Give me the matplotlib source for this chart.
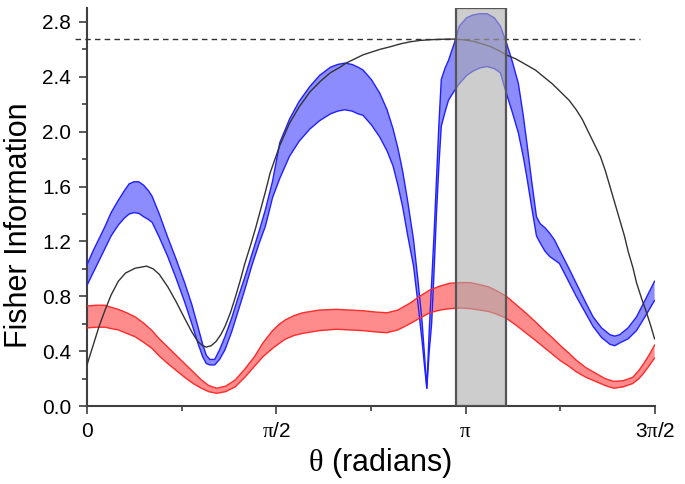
import numpy as np
import matplotlib
matplotlib.use('Agg')
import matplotlib.pyplot as plt
from matplotlib.patches import Rectangle
from matplotlib.ticker import MultipleLocator, FormatStrFormatter

plt.rcParams['font.family'] = ['Liberation Sans', 'DejaVu Sans']
plt.rcParams['mathtext.fontset'] = 'custom'
plt.rcParams['mathtext.rm'] = 'Liberation Sans'
plt.rcParams['mathtext.it'] = 'Liberation Serif'

# black reference curve
theta_black = [0, 0.05, 0.10, 0.15, 0.20, 0.26, 0.32, 0.40, 0.495, 0.55, 0.60, 0.67,
               0.74, 0.81, 0.87, 0.92, 0.96, 0.99, 1.03, 1.07, 1.11, 1.145, 1.19, 1.23,
               1.27, 1.31, 1.36, 1.40, 1.44, 1.48, 1.52, 1.60, 1.68, 1.76, 1.85, 1.94,
               2.02, 2.10, 2.15, 2.22, 2.29, 2.36, 2.43, 2.52, 2.60, 2.68, 2.76, 2.84,
               2.92, 3.00, 3.05, 3.12, 3.20, 3.28, 3.35, 3.42, 3.48, 3.56, 3.64, 3.72,
               3.79, 3.86, 3.93, 4.00, 4.06, 4.11, 4.16, 4.21, 4.26, 4.30, 4.34, 4.38,
               4.42, 4.46, 4.49, 4.53, 4.56, 4.60, 4.64, 4.68, 4.71]
fi_black = [0.30, 0.44, 0.58, 0.70, 0.81, 0.91, 0.97, 1.005, 1.02, 1.00, 0.96, 0.87,
            0.76, 0.64, 0.54, 0.47, 0.44, 0.43, 0.44, 0.47, 0.52, 0.58, 0.68, 0.79,
            0.91, 1.04, 1.18, 1.30, 1.43, 1.56, 1.70, 1.90, 2.06, 2.18, 2.29, 2.37,
            2.43, 2.47, 2.50, 2.53, 2.56, 2.58, 2.60, 2.62, 2.64, 2.655, 2.665, 2.67,
            2.673, 2.675, 2.675, 2.67, 2.66, 2.64, 2.62, 2.59, 2.56, 2.53, 2.49, 2.45,
            2.40, 2.35, 2.29, 2.23, 2.16, 2.09, 2.00, 1.91, 1.82, 1.72, 1.60, 1.48,
            1.36, 1.24, 1.13, 1.01, 0.90, 0.79, 0.69, 0.58, 0.49]

# blue band
theta_blue = [0, 0.05, 0.10, 0.15, 0.20, 0.26, 0.31, 0.35, 0.39, 0.43, 0.47, 0.51,
              0.54, 0.60, 0.67, 0.74, 0.81, 0.87, 0.92, 0.96, 0.99, 1.02, 1.06, 1.10,
              1.145, 1.20, 1.25, 1.31, 1.37, 1.43, 1.48, 1.54, 1.60, 1.68, 1.76, 1.85,
              1.93, 2.02, 2.08, 2.14, 2.20, 2.25, 2.29, 2.36, 2.43, 2.49, 2.54, 2.58,
              2.62, 2.66, 2.71, 2.745, 2.78, 2.80, 2.82, 2.84, 2.86, 2.88, 2.90, 2.92,
              2.94, 2.97, 3.00, 3.05, 3.09, 3.15, 3.20, 3.26, 3.32, 3.38, 3.43, 3.48,
              3.53, 3.58, 3.62, 3.65, 3.69, 3.73, 3.76, 3.80, 3.84, 3.88, 3.92, 3.99,
              4.06, 4.13, 4.20, 4.27, 4.34, 4.38, 4.42, 4.49, 4.56, 4.63, 4.71]
blue_hi = [1.03, 1.13, 1.22, 1.31, 1.41, 1.50, 1.57, 1.62, 1.635, 1.635, 1.61, 1.57,
           1.53, 1.40, 1.23, 1.07, 0.90, 0.74, 0.58, 0.45, 0.37, 0.34, 0.34, 0.41,
           0.505, 0.64, 0.78, 0.94, 1.11, 1.28, 1.43, 1.64, 1.92, 2.09, 2.22, 2.33,
           2.41, 2.47, 2.49, 2.50, 2.49, 2.47, 2.45, 2.38, 2.28, 2.16, 2.02, 1.88,
           1.71, 1.50, 1.21, 0.93, 0.62, 0.38, 0.13, 0.55, 0.90, 1.25, 1.65, 2.05,
           2.38, 2.46, 2.52, 2.65, 2.77, 2.83, 2.85, 2.86, 2.86, 2.83, 2.77, 2.65,
           2.51, 2.35, 2.12, 1.92, 1.64, 1.38, 1.33, 1.30, 1.26, 1.21, 1.14, 1.02,
           0.895, 0.77, 0.65, 0.57, 0.52, 0.51, 0.52, 0.57, 0.65, 0.77, 0.91]
blue_lo = [0.88, 0.97, 1.06, 1.15, 1.24, 1.32, 1.37, 1.40, 1.41, 1.405, 1.38, 1.36,
           1.34, 1.23, 1.09, 0.93, 0.76, 0.60, 0.46, 0.36, 0.31, 0.30, 0.30, 0.34,
           0.41, 0.54, 0.68, 0.85, 1.03, 1.19, 1.31, 1.52, 1.66, 1.82, 1.93, 2.02,
           2.08, 2.13, 2.15, 2.16, 2.15, 2.13, 2.12, 2.05, 1.96, 1.86, 1.75, 1.61,
           1.45, 1.25, 1.02, 0.76, 0.48, 0.30, 0.13, 0.40, 0.60, 0.98, 1.40, 1.75,
           2.04, 2.14, 2.23, 2.30, 2.35, 2.41, 2.44, 2.465, 2.475, 2.46, 2.43, 2.28,
           2.14, 1.99, 1.82, 1.67, 1.45, 1.24, 1.19, 1.13, 1.09, 1.065, 1.04, 0.92,
           0.80, 0.69, 0.58, 0.50, 0.45, 0.44, 0.46, 0.49, 0.55, 0.65, 0.77]

# red band
theta_red = [0, 0.08, 0.15, 0.20, 0.26, 0.33, 0.40, 0.47, 0.54, 0.60, 0.67, 0.74,
             0.81, 0.88, 0.95, 1.01, 1.075, 1.15, 1.23, 1.31, 1.39, 1.46, 1.54, 1.60,
             1.65, 1.72, 1.79, 1.93, 2.07, 2.18, 2.29, 2.40, 2.49, 2.58, 2.68, 2.76,
             2.845, 2.93, 3.01, 3.10, 3.18, 3.26, 3.33, 3.40, 3.48, 3.56, 3.64, 3.72,
             3.79, 3.86, 3.93, 4.00, 4.06, 4.14, 4.22, 4.30, 4.37, 4.45, 4.53, 4.58,
             4.62, 4.67, 4.71]
red_hi = [0.73, 0.735, 0.735, 0.72, 0.705, 0.68, 0.65, 0.605, 0.55, 0.49, 0.43, 0.37,
          0.31, 0.25, 0.19, 0.15, 0.13, 0.145, 0.19, 0.27, 0.36, 0.46, 0.55, 0.60,
          0.63, 0.66, 0.68, 0.70, 0.705, 0.70, 0.695, 0.685, 0.68, 0.70, 0.75, 0.80,
          0.846, 0.875, 0.895, 0.90, 0.90, 0.885, 0.87, 0.84, 0.80, 0.74, 0.68, 0.615,
          0.555, 0.50, 0.44, 0.385, 0.335, 0.28, 0.24, 0.20, 0.18, 0.185, 0.21, 0.26,
          0.31, 0.38, 0.445]
red_lo = [0.57, 0.575, 0.575, 0.565, 0.555, 0.53, 0.505, 0.465, 0.42, 0.365, 0.31, 0.26,
          0.21, 0.165, 0.13, 0.105, 0.093, 0.105, 0.14, 0.21, 0.29, 0.36, 0.42, 0.46,
          0.49, 0.515, 0.53, 0.55, 0.56, 0.555, 0.55, 0.54, 0.535, 0.555, 0.60, 0.64,
          0.68, 0.70, 0.71, 0.715, 0.71, 0.70, 0.69, 0.67, 0.64, 0.59, 0.535, 0.48,
          0.43, 0.38, 0.33, 0.29, 0.25, 0.21, 0.18, 0.15, 0.13, 0.14, 0.165, 0.20,
          0.24, 0.30, 0.35]

fi_max = 2.675
window = (3.06, 3.475)

xtick_vals = [0, np.pi / 2, np.pi, 3 * np.pi / 2]
xtick_labels = ['0', r'$\pi$/2', r'$\pi$', r'3$\pi$/2']

fig = plt.figure(figsize=(6.85, 4.84), dpi=100)
ax = fig.add_axes([0.127, 0.161, 0.829, 0.822])

ax.fill_between(theta_blue, blue_lo, blue_hi, facecolor='#8c8cff', edgecolor='none', zorder=2)
ax.plot(theta_blue, blue_hi, color='#2020ff', lw=1.0, zorder=3)
ax.plot(theta_blue, blue_lo, color='#2020ff', lw=1.0, zorder=3)

ax.fill_between(theta_red, red_lo, red_hi, facecolor='#ff8c8c', edgecolor='none', zorder=2)
ax.plot(theta_red, red_hi, color='#ff2a2a', lw=1.0, zorder=3)
ax.plot(theta_red, red_lo, color='#ff2a2a', lw=1.0, zorder=3)

ax.plot(theta_black, fi_black, color='#333333', lw=1.0, zorder=4)
ax.plot([-0.10, 4.59], [fi_max, fi_max], color='#333333', lw=1.0,
        dashes=(4, 3), clip_on=False, zorder=4)

ax.add_patch(Rectangle((window[0], 0), window[1] - window[0], 2.9,
                       facecolor='#acacac', alpha=0.6, edgecolor='none', zorder=5))
ax.add_patch(Rectangle((window[0], 0), window[1] - window[0], 2.9,
                       facecolor='none', edgecolor='#555555', lw=1.6, zorder=6))

ax.set_xlim(0, 3 * np.pi / 2)
ax.set_ylim(0, 2.9)
ax.set_xticks(xtick_vals)
ax.set_xticklabels(xtick_labels)
ax.xaxis.set_minor_locator(MultipleLocator(np.pi / 4))
ax.set_yticks(np.arange(0, 2.81, 0.4))
ax.yaxis.set_minor_locator(MultipleLocator(0.2))
ax.yaxis.set_major_formatter(FormatStrFormatter('%.1f'))

for s in ['top', 'right']:
    ax.spines[s].set_visible(False)
for s in ['left', 'bottom']:
    ax.spines[s].set_color('#404040')
    ax.spines[s].set_linewidth(1.5)

ax.tick_params(which='major', length=5.5, width=1.2, color='#404040', labelsize=15, pad=6)
ax.tick_params(which='minor', length=3.5, width=1.2, color='#404040')

ax.set_ylabel('Fisher Information', fontsize=22)
ax.yaxis.set_label_coords(-0.093, 0.455)
ax.set_xlabel(r'$\theta$ (radians)', fontsize=22)
ax.xaxis.set_label_coords(0.516, -0.10)
ax.xaxis.label.set_va('top')

fig.savefig('out.png', dpi=100)
